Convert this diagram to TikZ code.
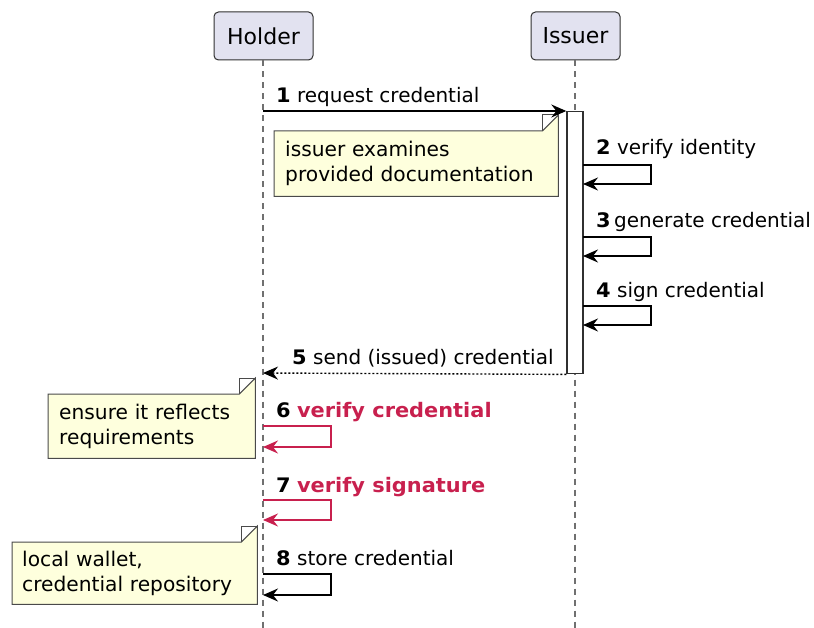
\documentclass[tikz,border=0pt]{standalone}
\usepackage{fontspec}
\setmainfont[BoldFeatures={FakeStretch=1.045}]{DejaVu Sans}
\usetikzlibrary{arrows.meta,backgrounds}
\definecolor{partfill}{HTML}{E2E2F0}
\definecolor{partdraw}{HTML}{303030}
\definecolor{notefill}{HTML}{FEFFDD}
\definecolor{notedraw}{HTML}{4A4A4A}
\definecolor{lifecol}{HTML}{707070}
\definecolor{redmsg}{HTML}{C8204E}
\tikzset{
  participant/.style={draw=partdraw, fill=partfill, rounded corners=4.5pt, line width=1pt,
    font=\fontsize{22}{26}\selectfont, inner sep=0pt},
  lifeline/.style={draw=lifecol, line width=1.1pt, dash pattern=on 6pt off 5pt},
  actbar/.style={draw=partdraw, fill=white, line width=1.4pt},
  tip/.style={-{Stealth[length=15pt,width=13pt,inset=5pt]}},
  msg/.style={draw=black, line width=1.4pt, tip},
  redmsgline/.style={draw=redmsg, line width=1.4pt, tip},
  retmsg/.style={draw=black, line width=1.4pt, dash pattern=on 2pt off 2pt, tip},
  lbl/.style={anchor=base west, inner sep=0pt, font=\fontsize{20}{25}\selectfont},
  notetext/.style={anchor=north west, inner xsep=11pt, inner ysep=0pt, align=left,
    font=\fontsize{20.2}{25}\selectfont},
  noteshape/.style={draw=notedraw, fill=notefill, line width=1pt},
}
\begin{document}
\begin{tikzpicture}[x=1pt,y=-1pt]
\useasboundingbox (0,0) rectangle (814,628);

% participants
\node[participant, minimum width=99pt, minimum height=48pt] (holder) at (263.5,36) {Holder};
\node[participant, minimum width=89pt, minimum height=48pt] (issuer) at (575.5,36) {Issuer};

% lifelines
\coordinate (hbot) at (263,628);
\coordinate (ibot) at (575,628);
\draw[lifeline] (holder.south) ++(-0.5,0) coordinate (htop) -- (hbot);
\draw[lifeline] (issuer.south) ++(-0.5,0) coordinate (itop) -- (ibot);

% activation bar
\node[actbar, minimum width=16pt, minimum height=262pt, inner sep=0pt, anchor=north] (bar) at (575,111) {};

% message 1
\coordinate (m1s) at (263,111);
\draw[msg] (m1s) -- (bar.north west);
\node[lbl] (l1) at (276,103) {\textbf{1} request credential};

% note 1
\node[notetext, text width=262pt, minimum height=65pt] (n1) at (274,131) {issuer examines\\provided documentation};
\begin{scope}[on background layer]
\draw[noteshape] (n1.north west) -- ([xshift=-16pt]n1.north east) -- ([yshift=16pt]n1.north east) -- (n1.south east) -- (n1.south west) -- cycle;
\draw[noteshape, fill=none] ([xshift=-16pt]n1.north east) |- ([yshift=16pt]n1.north east);
\end{scope}

% self messages on issuer
\coordinate (s2a) at (583,165); \coordinate (s2b) at (583,184);
\draw[msg] (s2a) -- ++(68,0) |- (s2b);
\node[lbl] (l2) at (596,155) {\textbf{2} verify identity};

\coordinate (s3a) at (583,237); \coordinate (s3b) at (583,256);
\draw[msg] (s3a) -- ++(68,0) |- (s3b);
\node[lbl] (l3) at (596,228) {\textbf{3}\,generate credential};

\coordinate (s4a) at (583,306); \coordinate (s4b) at (583,325);
\draw[msg] (s4a) -- ++(68,0) |- (s4b);
\node[lbl] (l4) at (596,298) {\textbf{4} sign credential};

% message 5
\coordinate (m5e) at (263,373);
\draw[retmsg] (bar.south west) -- (m5e);
\node[lbl] (l5) at (292,364) {\textbf{5} send (issued) credential};

% self message 6
\coordinate (s6a) at (263,426); \coordinate (s6b) at (263,447);
\draw[redmsgline] (s6a) -- ++(68,0) |- (s6b);
\node[lbl] (l6) at (276,417) {\textbf{6} \textcolor{redmsg}{\textbf{verify credential}}};

\node[notetext, text width=185pt, minimum height=64pt] (n2) at (48,394) {ensure it reflects\\requirements};
\begin{scope}[on background layer]
\draw[noteshape] (n2.north west) -- ([xshift=-16pt]n2.north east) -- ([yshift=16pt]n2.north east) -- (n2.south east) -- (n2.south west) -- cycle;
\draw[noteshape, fill=none] ([xshift=-16pt]n2.north east) |- ([yshift=16pt]n2.north east);
\end{scope}

% self message 7
\coordinate (s7a) at (263,500); \coordinate (s7b) at (263,520);
\draw[redmsgline] (s7a) -- ++(68,0) |- (s7b);
\node[lbl] (l7) at (276,492) {\textbf{7} \textcolor{redmsg}{\textbf{verify signature}}};

% self message 8
\coordinate (s8a) at (263,574); \coordinate (s8b) at (263,595);
\draw[msg] (s8a) -- ++(68,0) |- (s8b);
\node[lbl] (l8) at (276,565) {\textbf{8} store credential};

\node[notetext, text width=225pt, minimum height=62pt, inner xsep=10pt] (n3) at (12,542) {local wallet,\\credential repository};
\begin{scope}[on background layer]
\draw[noteshape] (n3.north west) -- ([xshift=-16pt]n3.north east) -- ([yshift=16pt]n3.north east) -- (n3.south east) -- (n3.south west) -- cycle;
\draw[noteshape, fill=none] ([xshift=-16pt]n3.north east) |- ([yshift=16pt]n3.north east);
\end{scope}
\end{tikzpicture}
\end{document}
